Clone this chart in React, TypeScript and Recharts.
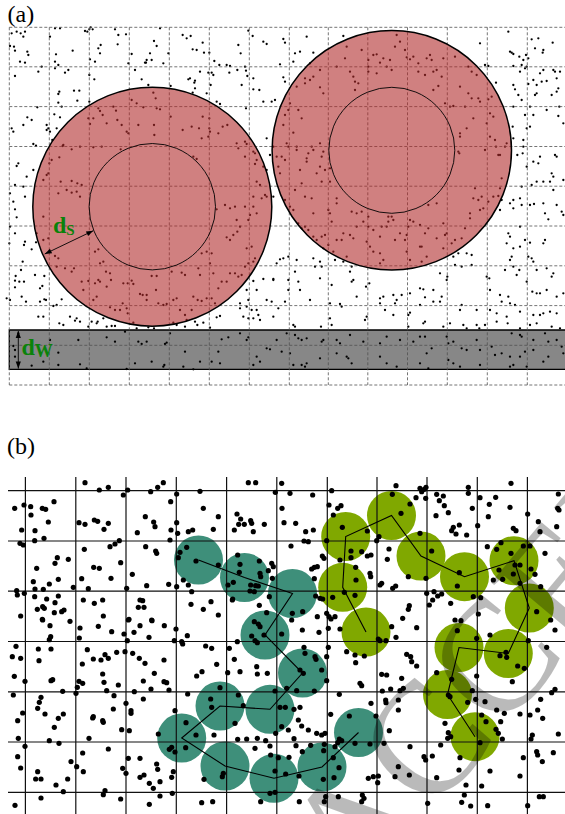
import React from "react";
import { ScatterChart, Scatter, XAxis, YAxis, ReferenceArea } from "recharts";

const dotsA1: number[][] = [
[35,100],[50,95],[62,100],[70,110],[75,95],[42,140],[30,138],[45,152],[60,185],[75,188],[82,155],[85,165],[165,85],[180,85],[150,110],[168,163],[165,185],[175,195],[218,152],[255,93],[262,95],[268,88],[278,88],[272,82],[302,135],[295,145],[300,160],[285,185],[270,178],[345,88],[355,105],[378,103],[353,133],[395,162],[385,190],[435,188],[450,160],[440,180],[462,123],[470,138],[490,190],[480,85],[505,160],[548,105],[560,115],[572,108],[578,148],[590,150],[608,128],[612,158],[643,183],[628,158],[715,135],[722,160],[745,92],[758,108],[790,125],[800,132],
[45,228],[125,200],[115,215],[165,205],[195,218],[205,210],[175,282],[178,275],[222,272],[238,272],[232,302],[268,225],[283,238],[268,305],[405,210],[425,238],[438,188],[455,180],[445,255],[512,258],[565,238],[570,235],[585,242],[583,248],[585,265],[578,278],[600,215],[625,218],[635,218],[640,225],[658,195],[680,195],[690,198],[688,218],[712,210],[735,200],[738,212],[742,228],[760,235],[760,268],[778,270],[790,305],[725,255],[632,255],[620,280],[650,305],[660,312],[738,325],[825,300],[815,305],[175,308],[185,320],
[35,385],[40,395],[70,375],[82,352],[95,360],[112,322],[140,375],[140,390],[145,385],[150,395],[180,352],[163,343],[100,432],[108,437],[157,420],[170,385],[190,435],
[295,325],[300,333],[308,345],[280,355],[270,372],[265,355],[320,370],[340,320],[348,332],[352,360],[365,375],[380,395],[385,400],[415,375],[395,300],[410,310],[430,322],[460,278],[467,295],[470,325],[480,328],[462,375],[463,405],[512,350],[548,390],[575,380],[597,385],[608,350],[628,355],[625,410],[605,415],[628,385],[630,395],[655,400],[668,380],[682,375],[710,430],[735,425],[740,432],[715,445],[760,455],[770,480],[765,492],[790,500],[800,510],[188,438],[178,472],[215,448],[240,440],[280,442],[305,440],[362,448],[155,480],[148,490],[145,520],[140,525],[130,540],[182,545],[215,543],[232,550],[245,555],[200,570],[215,578],[175,580],[230,575],[240,590],[765,460],[735,470],[770,545],[780,555],[795,585],[800,590],[785,595],[760,590],[580,470],[590,477],
[55,490],[50,498],[45,555],[70,560],[75,590],[100,510],[80,530],[30,580],
[800,415],[820,440],[830,470],[810,465],[835,500],[840,520],[820,590]
];
const dotsA2: number[][] = [
[40,5],[45,28],[50,52],[30,80],[28,130],[45,100],[75,125],[72,135],[95,148],[108,127],[68,185],[63,210],[47,228],[45,242],[58,245],[72,245],[45,262],[20,295],[30,300],[65,290],[78,305],[120,265],[127,258],[133,228],[105,225],[120,305],[133,298],[130,350],[115,350],[138,300],[160,318],[170,315],[185,298],[178,370],[210,350],[190,375],[225,362],[230,355],[240,365],[265,380],[275,365],[293,365],[290,370],[310,355],[320,380],[335,378],[345,378],[400,368],[410,385],[445,382],[462,385],[520,368],[530,375],[555,380],[585,365],[592,375],[610,368],[630,383],[650,352],[660,348],[720,325],[740,320],[730,350],[745,355],[760,355],[775,345],[770,330],[745,300],[770,270],[740,270],[760,243],[790,237],[820,240],[840,178],[830,190],[820,237],[800,300],[815,305],[835,325],[820,350],[780,360],[755,330],[720,310],
[130,120],[145,115],[130,50],[110,100],[175,175],[165,168],[170,200],[195,205],[215,215],[222,205],[245,245],[250,270],[265,243],[285,250],[295,240],[300,245],[285,155],[295,148],[300,190],[310,185],[318,215],[330,220],[333,240],[320,260],[280,300],[290,290],[330,322],[345,330],[360,330],[368,310],[380,325],[383,340],[395,242],[400,252],[370,250],[383,250],[420,282],[428,285],[440,285],[440,300],[455,228],[470,228],[468,270],[475,310],[490,315],[500,312],[520,300],[530,295],[540,330],[555,345],[560,360],[575,330],[580,290],[593,300],[605,303],[620,295],[635,295],[645,310],[515,215],[545,218],[555,225],[600,225],[595,205],[605,160],[630,190],[640,220],[655,265],[665,245],[680,245],[690,220],[705,220],[715,230],[725,225],[735,200],[745,190],[760,185],[765,175],[740,145],[755,140],[680,112],[690,120],[700,105],[712,95],[720,80],[710,60],[745,60],[750,45],[770,40],[760,20],[735,20],[705,20],[690,25],[675,15],[650,28],[620,155],[635,160],
[55,400],[45,450],[45,470],[40,438],[95,497],[130,485],[150,420],[175,458],[175,495],[235,420],[240,493],[260,505],[320,412],[345,425],[375,395],[380,507],[405,490],[415,425],[425,432],[440,425],[455,485],[490,500],[495,432],[500,428],[493,495],[510,400],[550,500],[555,455],[580,508],[600,485],[635,485],[655,455],[660,490],[665,418],[685,412],[720,400],[740,420],[745,412],[770,470],[760,495],[780,485],[800,445],[810,448],[830,420]
];
const dotsA3: number[][] = [
[80,110],[10,117],[45,160],[60,155],[100,158],[40,185],[90,190],[15,128],[0,193],[10,232],[190,108],[600,130],[685,95],[690,155],[695,158],[700,162],[718,170],[730,180],[738,165],[745,175],[755,118],[765,145],[775,115],[790,150],[788,158],[818,128],[700,198],[725,195],[735,205],[740,200],[720,215],[790,210],[780,220],[760,240],[745,252],[770,255],[785,245],[800,243],[830,235],[820,210],[825,215],[840,215],[835,265],[830,275],[815,285],[765,285],[770,280],[715,285],[725,300],[705,268],[700,255],[648,248],[625,198],[615,195],[700,320],[750,320],[800,330],[838,320],[835,348],[850,370],[760,345],[735,345],[740,385],[750,380],[698,380],[700,415],[730,420],[730,440],[712,465],[728,460],[760,485],[775,490],[780,470],[740,500],[770,545],[790,545],[825,465],[830,470],[815,520],[820,530],[810,545],[820,570],[850,540],[755,555],[725,560],[720,595],[700,600],[690,610],[700,625],[725,615],[750,615],[762,612],[790,610],[830,615],[845,635],[850,645],[805,658],[795,640],[655,588],[660,630],[665,600],[720,680],[685,700],[690,710],[680,730],[700,745],[720,740],[735,720],[750,728],[790,730],[795,720],[745,770],[755,775],[760,785],[695,770],[690,780],[675,810],[700,800],[710,825],[718,810],[740,845],[770,810],[800,805],[815,830],[820,820],[800,870],[770,880],[780,880],[757,875],[830,890],[850,880],[810,935],[790,940],[830,940],[760,945],[720,935],[705,915],[660,885],[685,890],[690,910],[665,905],[630,870],[628,835],[620,830],[575,795],[545,800],[535,760],[560,760],[575,765],[525,795],[500,840],[502,830],[480,820],[485,890],[480,905],[545,915],[540,930],[590,930],[630,930],[650,940],[680,950],[650,965],[683,970],[720,985],[750,975],[770,970],[815,980],[840,985],[780,945],
[10,775],[25,770],[50,780],[45,815],[25,840],[55,845],[60,870],[25,870],[15,905],[90,900],[105,800],[120,785],[125,800],[100,775],[120,835],[155,855],[150,910],[185,920],[180,912],[230,890],[260,950],[255,960],[268,850],[258,860],[215,845],[220,840],[210,815],[165,780],[190,785],[215,800],[300,895],[300,910],[310,890],[340,885],[345,910],[350,900],[365,885],[315,930],[340,945],[385,945],[390,938],[420,915],[435,892],[430,868],[420,865],[460,870],[460,905],[385,980],[390,880],[430,970],[435,965],[490,980],[510,970],[550,975],[560,985],[590,975],[598,985],[615,975],[150,955],[155,975],[123,980],[40,975],[45,980],
[20,1000],[45,1005],[55,1015],[65,1020],[80,1015],[125,1025],[130,1020],[170,1020],[180,1030],[210,1005],[250,1025],[300,1030],[320,1010],[360,1020],[400,1025],[420,1010],[435,1010],[440,1060],[455,1045],[500,1010],[505,1030],[520,1025],[545,1045],[560,1050],[590,1020],[600,1050],[635,1040],[645,1065],[665,1060],[690,1070],[695,1000],[720,1005],[725,1010],[735,1055],[720,1070],[760,1050],[760,1020],[795,1000],[805,1025],[830,1020],[845,1040],[850,1060],[805,1070],[790,1085],[740,1100],[700,1095],[690,1100],[600,1095],[540,1100],[520,1090],[505,1080],[445,1105],[420,1090],[350,1100],[320,1090],[300,1070],[205,1075],[215,1090],[200,1070],[170,1060],[120,1075],[75,1100],[80,1090],[65,1095],[40,1095],[5,1055],[30,1060],
[350,105],[360,125],[345,140],[375,150],[400,170],[390,178],[380,172],[330,180],[335,210],[310,175],[265,180],[290,163],[280,165],[245,150],[200,140],[195,175],[210,215],[170,200],[120,210],[100,230],[90,240],[75,235],[75,250],[50,260],[15,245],
[130,280],[120,262],[225,245],[235,250],[225,270],[220,230],[265,215],[265,200],[290,220],[300,188],[320,200],[415,190],[440,175],[450,165],[455,180],[470,210],[460,215],[490,175],[525,170],[565,200],[575,215],[590,225],[485,230],[415,215],[435,225],[460,270],[475,258],[495,310],[510,320],[520,318],[540,260],[565,280],[575,295],[595,295],[600,305],[625,298],[635,290],[630,340],[620,370],[640,350],[630,410],[645,420],[648,440],[655,465],[660,465],[675,440],[680,430],[615,450],[540,400],[540,410],[538,460],[535,455],[560,385],[580,355],[555,320],
[30,310],[55,330],[65,355],[25,330],[15,345],[10,375],[40,398],[20,430],[5,470],[25,440],[50,440],[50,450],[80,475],[80,485],[95,440],[100,450],[85,460],[120,430],[130,455],[125,470],[120,500],[135,510],[125,545],[150,545],[150,505],[110,520],[60,510],[65,550],[45,570],[15,480],[75,590],[95,595],[145,630],[170,595],[170,610],[215,635],[230,640],[245,635],[265,650],[250,665],[265,680],[280,690],[305,680],[300,710],[325,650],[335,650],[340,660],[325,665],[320,680],[345,720],[360,700],[380,705],[385,680],[390,660],[400,665],[420,675],[435,700],[445,685],[425,740],[470,715],[495,705],[500,700],[515,730],[525,720],[545,715],[555,685],[570,655],[570,640],[580,595],[585,565],[595,600],[605,590],[600,630],[610,625],[625,605],[640,590],[660,565],[665,535],[490,670],[470,610],[445,615],[380,755],[390,780],[300,790],[310,780],[280,755],[270,740],[260,725],[220,715],[210,705],[185,720],[170,720],[135,705],[125,710],[110,720],[100,710],[85,690],[75,680],[65,685],[55,670],[40,630],[30,620],[15,600],[155,665],[190,700],[230,680],[150,640],[100,640],[145,735],[200,770],[160,755],[130,745],[300,760],[375,720],[425,785],[440,770],[490,745],[520,770],[420,740]
];

const dotsB4: number[][] = [
[255,188],[298,210],[325,202],[383,210],[370,225],[452,215],[473,202],[490,188],[512,245],[530,222],[600,214],[745,188],[767,188],[826,217],
[44,265],[72,255],[92,260],[127,265],[137,268],[162,245],[93,285],[145,306],[65,330],[105,332],[104,362],[132,355],[60,370],[70,375],
[237,308],[255,313],[283,300],[293,304],[325,310],[312,328],[436,290],[461,306],[465,320],[412,338],[513,330],[530,308],[533,340],[510,360],[610,265],[655,290],[640,328],[565,335],[578,330],[711,282],[722,297],[752,302],[755,310],[716,313],[733,313],[703,330],[760,335],[793,313],
[253,388],[330,380],[345,372],[358,362],[437,380],[467,393],[470,400],
[362,428],[397,463],[440,497],[333,475],[245,476],[281,442],[298,445],[172,413],[165,430],[205,418],[110,445],[100,485],[148,492],[175,478],[105,507],[130,508],[50,512],[52,525],[73,520],[220,502],[265,506],[380,505],[506,493],[530,500],[550,480],[565,495],[575,515],[560,382],[540,397],[535,413],[588,423],[655,435],[713,405],[720,433],[718,457],[778,423],[815,430],[820,440],[805,452],[780,460],[782,470],[817,475],[684,495],[700,487],[752,495],[767,497],[775,498],[750,513],[763,515],[698,537],[808,530],
[250,540],[283,550],[308,540],[104,530],[140,537],[165,548],[175,528],[112,568],[128,560],[133,565],[163,578],[185,575],[192,570],[62,588],[127,598],[310,588],[420,540],[428,542],[415,562],[432,562],[387,598],[455,600],[573,553],[610,568],[633,545],[655,585],[697,540],[778,556],[800,578]
];
const dotsB5: number[][] = [
[5,40],[30,70],[98,75],[155,62],[147,105],[173,115],[183,107],[160,135],[12,158],[47,160],[6,115],[77,185],[100,180],[72,213],[85,215],[33,228],[140,212],[127,258],[132,265],[95,297],[103,292],[112,290],[103,326],[180,270],[213,263],[262,258],[273,255],[245,245],[213,243],[187,172],[262,183],[227,292],[270,310],[272,320],[228,330],[225,376],[193,367],[158,382],[107,378],[120,385],[128,387],[112,440],[140,430],[147,440],[153,447],[165,440],[37,430],[68,425],
[297,200],[290,212],[327,237],[322,268],[300,345],[305,340],[338,355],[347,348],[337,73],[348,47],[390,102],[363,130],[408,83],[420,55],[425,65],[437,85],[438,52],[433,58],[470,73],[478,92],[493,107],[490,78],[505,128],[468,137],[520,172],[515,182],[538,165],[528,192],[560,195],[577,115],[565,70],[565,52],[600,83],[628,103],[625,140],[647,82],[593,167],[693,40],[690,112],[700,175],[708,182],[743,132],[775,155],[780,185],[835,72],[833,115],[837,120],[830,170],
[420,190],[455,243],[438,325],[385,320],[440,370],[462,365],[473,378],[485,372],[448,405],[458,390],[512,400],[388,407],[385,418],[368,445],
[622,230],[650,238],[663,218],[693,250],[730,228],[750,228],[720,285],[657,300],[668,328],[640,330],[700,312],[705,285],[753,297],[765,313],[795,250],[782,350],[720,340],[770,425],[595,432],[538,308],[532,348],[580,380],[602,383]
];
const dotsB6: number[][] = [
[36,2],[73,17],[108,27],[103,62],[125,65],[128,72],[142,47],[27,52],[197,78],[215,85],[230,133],[268,85],[292,65],[283,118],[300,155],[263,158],[186,155],[170,168],[72,120],[15,130],[43,160],[10,183],[72,185],[80,188],[33,207],[87,210],[10,237],[143,222],[105,272],
[343,5],[355,12],[335,48],[345,62],[352,68],[372,45],[425,42],[360,20],
[455,0],[487,30],[537,37],[565,25],[600,27],[565,82],[560,110],[525,110],[495,100],[492,82],[528,118],[545,150],[480,150],[490,160],[523,213],[560,182],[470,212],[440,205],[405,213],[350,140],[352,162],[382,160],
[620,95],[645,105],[673,108],[647,128],[715,57],[720,62],[738,62],[768,52],[755,20],[830,23],[800,103],[812,110],[815,125],[830,138],[725,163],[740,165],[660,190],[665,197],[785,175],[790,205],[780,212],[752,207],[727,213],[737,240],[738,248],[775,240],[775,270],[693,250],[708,288],[748,332],[810,380],[852,410],[857,420],[732,370],[690,372],[645,370],[598,357],[593,368],[605,362],[585,380],[628,288],[598,223],[572,283],[555,340],[545,345],[530,340],[505,330],[485,318],[475,300],[480,262],[462,268],[436,262],[420,262],[425,320],[445,330],[462,356],[468,377],[487,395],[512,376],[553,373],[551,392],[580,413],[597,443],[550,478],[582,473],
[240,203],[212,237],[215,262],[295,225],[310,257],[285,310],[222,345],
[138,308],[168,345],[137,383],[95,382],[88,388],[105,396],[55,342],
[407,340],
[0,415],[50,432],[53,448],[12,465],[100,455],[95,472],[28,490],[40,505],[60,485],[97,520],[60,528],[28,553],[185,548],[218,545],[250,460],[247,470],[192,478],[293,358],[320,357],[352,355],[377,362],[390,378],[345,385],[392,405],[415,413],[447,412],[437,462],[405,453],[477,468],[390,520],[405,517],[362,545],[478,545],[553,545],[595,530],[557,530],[667,525],[672,535],[665,545],[685,475],[700,470],[715,468],[713,488],[765,470],[808,465],[775,440],[863,550]
];
const dotsB7: number[][] = [
[243,2],[225,0],[232,32],[290,55],[330,45],[170,158],[215,178],[205,225],[210,230],[263,247],[277,212],[287,238],[315,245],[290,168],[360,107],[378,97],[380,112],[413,138],[433,145],[397,185],[445,62],[500,82],[525,30],[512,0],
[305,285],[318,305],[350,270],[373,280],[362,305],[348,328],[355,340],[367,357],[300,368],[240,413],[237,450],[330,453],[258,495],[305,498],[420,282],[450,285],[488,295],[473,270],[482,238],[515,218],[525,208],[457,345],[453,357],[535,342],[470,395],[473,405],[520,398],[430,413],[487,425],[420,468],[170,473],[253,525],[245,547],[272,558],[323,557],[443,557],[478,530],[490,530],[182,375],[195,310],[205,338],[212,350],[203,355],[157,408]
];
const dotsB10: number[][] = [
[128,18],[150,35],[210,22],[240,42],[238,72],[152,68],[148,77],[295,37],[335,53],[372,60],[385,18],[402,55],[420,35],[382,80],
[48,97],[37,128],[62,133],[115,105],[117,140],[153,105],[262,107],[247,150],[280,135],[303,138],[315,122],[325,133],[350,115],[375,113],[398,118],[418,133],
[43,187],[75,202],[153,200],[158,197],[308,180],[312,205],[355,213],[237,202],[248,208],[232,220],[228,238],[188,232],[320,230],[342,245],[378,268],[403,233],
[40,243],[123,250],[118,265],[113,283],[68,297],[53,320],[135,300],[190,300],[175,313],[163,340],[278,312],[280,308],[310,325],[308,320],[340,285],[393,290],[393,298],[365,347],[388,350],
[55,373],[75,397],[148,380],[177,388],[267,373],[325,405],[248,417],[53,428],[62,462],[213,443],[230,458],[250,473],[385,433],[368,463],[378,478],[420,490],
[113,473],[107,495],[123,495],[203,495],[168,513],[190,533],[315,530],[310,542],[362,555],[123,552],[45,574]
];

// crop origins and magnification of the readings
const CROP_SCALE = 3;
const cropsA = [
  { ox: 0, oy: 0, pts: dotsA1 },
  { ox: 0, oy: 200, pts: dotsA2 },
  { ox: 280, oy: 0, pts: dotsA3 },
];
const cropsB = [
  { ox: 0, oy: 420, pts: dotsB4 },
  { ox: 280, oy: 470, pts: dotsB5 },
  { ox: 140, oy: 620, pts: dotsB6 },
  { ox: 380, oy: 620, pts: dotsB7 },
  { ox: 0, oy: 614, pts: dotsB10 },
];
const fromCrops = (crops: { ox: number; oy: number; pts: number[][] }[]) =>
  crops.flatMap((c) => c.pts.map(([zx, zy]) => ({ x: c.ox + zx / CROP_SCALE, y: c.oy + zy / CROP_SCALE })));

// ---- grids ----
const gridAX = [9.3, 49.3, 89.3, 129.3, 169.3, 209.3, 249.3, 289.3, 328.3, 367.8, 407.5, 447.3, 487.3, 527.3];
const gridAY = [27.3, 66.8, 106.6, 146.5, 186.2, 226, 265.8, 305.6, 345.3, 385];
const gridAExtent = { x0: 9.3, x1: 565, y0: 27.3, y1: 385 };
const gridBX = [25.4, 75.8, 126, 176.3, 226.6, 276.8, 327.3, 377, 427, 477.3, 527.4];
const gridBY = [490.7, 541, 591.2, 641.5, 691.8, 742, 792.3];
const gridBExtent = { x0: 8, x1: 565, y0: 477, y1: 814 };

// ---- panel (a) objects ----
const spheres = [
  { x: 152.3, y: 206.7, r: 119.5, core: 63.2 },
  { x: 391.8, y: 150.3, r: 119.7, core: 63 },
];
const wall = { x1: 9.3, x2: 568, y1: 330, y2: 369.3 };
const arrowS = [
  { x: 44.7, y: 254, tx: 93.3, ty: 230.7 },
  { x: 93.3, y: 230.7, tx: 44.7, ty: 254 },
];
const arrowW = [
  { x: 18.3, y: 331, tx: 18.3, ty: 368.6 },
  { x: 18.3, y: 368.6, tx: 18.3, ty: 331 },
];
const labelDS = [{ x: 53, y: 233.3, main: "d", sub: "S" }];
const labelDW = [{ x: 21.5, y: 355, main: "d", sub: "W" }];
const panelLabels = [
  { x: 7.5, y: 21.5, text: "(a)" },
  { x: 7, y: 454, text: "(b)" },
];

// ---- panel (b) clusters ----
const tealChain = [
  { x: 198.5, y: 560 }, { x: 244.5, y: 577.5 }, { x: 292.5, y: 593.5 }, { x: 265, y: 635 },
  { x: 302.5, y: 673 }, { x: 270, y: 709.3 }, { x: 220, y: 706 }, { x: 181.7, y: 738 },
  { x: 225, y: 766 }, { x: 274, y: 778.3 }, { x: 322, y: 767 }, { x: 358.5, y: 732.5 },
];
const greenChain = [
  { x: 366, y: 632 }, { x: 342.7, y: 587.3 }, { x: 345.7, y: 536.5 }, { x: 391.5, y: 515.5 },
  { x: 421, y: 556 }, { x: 464.5, y: 576.7 }, { x: 514, y: 560.7 }, { x: 529.3, y: 608 },
  { x: 508.3, y: 653.5 }, { x: 459, y: 647.5 }, { x: 447.5, y: 694.5 }, { x: 475, y: 736.7 },
];
const watermark = [{ x: 465.4, y: 775.9, text: "ACCEPTED MANUSCRIPT" }];

const dotsA = fromCrops(cropsA);
const dotsB = fromCrops(cropsB);

const SERIF = "'Liberation Serif', 'DejaVu Serif', serif";
const NoShape = () => <g />;

const seg = (a: { x: number; y: number }, b: { x: number; y: number }) => [a, b];

const Arrowhead = (p: any) => {
  const { cx, cy, payload } = p;
  const dx = payload.x - payload.tx;
  const dy = payload.y - payload.ty;
  const L = Math.hypot(dx, dy) || 1;
  const ux = dx / L, uy = dy / L;
  const len = 7, hw = 2.6;
  const bx = cx - ux * len, by = cy - uy * len;
  const pts = `${cx},${cy} ${bx - uy * hw},${by + ux * hw} ${bx + uy * hw},${by - ux * hw}`;
  return <polygon points={pts} fill="#000" />;
};

export default function App() {
  const vLinesA = gridAX.map((x) => seg({ x, y: gridAExtent.y0 }, { x, y: gridAExtent.y1 }));
  const hLinesA = gridAY.map((y) => seg({ x: gridAExtent.x0, y }, { x: gridAExtent.x1, y }));
  const vLinesB = gridBX.map((x) => seg({ x, y: gridBExtent.y0 }, { x, y: gridBExtent.y1 }));
  const hLinesB = gridBY.map((y) => seg({ x: gridBExtent.x0, y }, { x: gridBExtent.x1, y }));

  return (
    <div style={{ position: "absolute", left: 0, top: 0, width: 565, height: 814, background: "#fff", overflow: "hidden" }}>
      <ScatterChart width={565} height={814} margin={{ top: 0, right: 0, bottom: 0, left: 0 }}>
        <XAxis type="number" dataKey="x" domain={[0, 565]} hide allowDataOverflow height={0} />
        <YAxis type="number" dataKey="y" domain={[0, 814]} reversed hide allowDataOverflow width={0} />

        {/* panel (a) */}
        <Scatter data={dotsA} isAnimationActive={false}
          shape={(p: any) => <circle cx={p.cx} cy={p.cy} r={1.15} fill="#000" />} />
        {[...vLinesA, ...hLinesA].map((d, i) => (
          <Scatter key={"ga" + i} data={d} isAnimationActive={false} shape={NoShape}
            line={{ stroke: "#505050", strokeWidth: 0.8, strokeDasharray: "3 2" }} />
        ))}
        <ReferenceArea x1={wall.x1} x2={wall.x2} y1={wall.y1} y2={wall.y2} ifOverflow="visible"
          fill="rgba(0,0,0,0.47)" fillOpacity={1} stroke="#000" strokeWidth={1.3} />
        <Scatter data={spheres} isAnimationActive={false}
          shape={(p: any) => (
            <g>
              <circle cx={p.cx} cy={p.cy} r={p.payload.r} fill="rgba(177,43,43,0.6)" stroke="#000" strokeWidth={1.5} />
              <circle cx={p.cx} cy={p.cy} r={p.payload.core} fill="none" stroke="#000" strokeWidth={0.9} />
            </g>
          )} />
        <Scatter data={arrowS} isAnimationActive={false} shape={Arrowhead} line={{ stroke: "#000", strokeWidth: 0.9 }} />
        <Scatter data={arrowW} isAnimationActive={false} shape={Arrowhead} line={{ stroke: "#000", strokeWidth: 0.9 }} />
        <Scatter data={labelDS} isAnimationActive={false}
          shape={(p: any) => (
            <text x={p.cx} y={p.cy} fill="#0a820a" fontFamily={SERIF} fontWeight="bold" fontSize={24}>
              {p.payload.main}
              <tspan fontSize={15} dy={2}>{p.payload.sub}</tspan>
            </text>
          )} />
        <Scatter data={labelDW} isAnimationActive={false}
          shape={(p: any) => (
            <text x={p.cx} y={p.cy} fill="#0a820a" fontFamily={SERIF} fontWeight="bold" fontSize={24}>
              {p.payload.main}
              <tspan fontSize={18} dy={2}>{p.payload.sub}</tspan>
            </text>
          )} />

        {/* panel (b) */}
        <Scatter data={tealChain} isAnimationActive={false}
          shape={(p: any) => <circle cx={p.cx} cy={p.cy} r={24.5} fill="#3e8f7a" />} />
        <Scatter data={greenChain} isAnimationActive={false}
          shape={(p: any) => <circle cx={p.cx} cy={p.cy} r={24.5} fill="#80a800" />} />
        {[...vLinesB, ...hLinesB].map((d, i) => (
          <Scatter key={"gb" + i} data={d} isAnimationActive={false} shape={NoShape}
            line={{ stroke: "#111", strokeWidth: 1.2 }} />
        ))}
        <Scatter data={dotsB} isAnimationActive={false}
          shape={(p: any) => <circle cx={p.cx} cy={p.cy} r={2.6} fill="#000" />} />
        <Scatter data={tealChain} isAnimationActive={false} shape={NoShape} line={{ stroke: "#000", strokeWidth: 1.1 }} />
        <Scatter data={greenChain} isAnimationActive={false} shape={NoShape} line={{ stroke: "#000", strokeWidth: 1.1 }} />
        <Scatter data={watermark} isAnimationActive={false}
          shape={(p: any) => (
            <text x={p.cx} y={p.cy} dx={-169} transform={`rotate(-50 ${p.cx} ${p.cy})`}
              fontFamily={SERIF} fontSize={160} fill="rgba(0,0,0,0.27)">{p.payload.text}</text>
          )} />

        <Scatter data={panelLabels} isAnimationActive={false}
          shape={(p: any) => (
            <text x={p.cx} y={p.cy} fontFamily={SERIF} fontSize={24} fill="#000">{p.payload.text}</text>
          )} />
      </ScatterChart>
    </div>
  );
}
